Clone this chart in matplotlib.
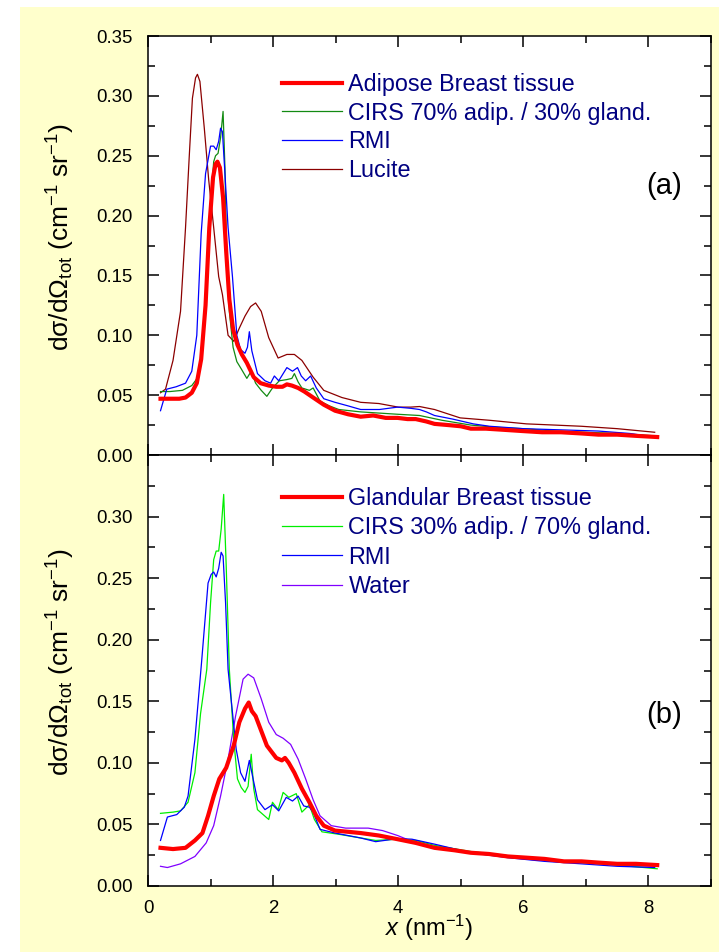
import matplotlib
matplotlib.use("Agg")
import matplotlib.pyplot as plt
from matplotlib.patches import Rectangle
from matplotlib.ticker import MultipleLocator, FormatStrFormatter

plt.rcParams['font.family'] = ['Liberation Sans', 'DejaVu Sans']
plt.rcParams['mathtext.fontset'] = 'custom'
plt.rcParams['mathtext.rm'] = 'Liberation Sans'
plt.rcParams['mathtext.it'] = 'Liberation Sans:italic'
plt.rcParams['mathtext.bf'] = 'Liberation Sans:bold'

# ---------------- panel (a): adipose tissue and phantoms ----------------
adipose_x = [0.20, 0.35, 0.50, 0.60, 0.70, 0.78, 0.85, 0.92, 0.98, 1.04, 1.08, 1.11, 1.15, 1.20,
             1.25, 1.30, 1.36, 1.43, 1.50, 1.58, 1.69, 1.80, 1.93, 2.05, 2.15, 2.22, 2.30, 2.40,
             2.50, 2.64, 2.81, 2.99, 3.20, 3.40, 3.60, 3.80, 3.99, 4.15, 4.28, 4.45, 4.58, 4.80,
             5.00, 5.16, 5.40, 5.70, 5.99, 6.30, 6.60, 6.93, 7.20, 7.50, 7.80, 8.14]
adipose_y = [0.047, 0.047, 0.047, 0.048, 0.052, 0.060, 0.080, 0.125, 0.190, 0.232, 0.243, 0.245,
             0.240, 0.215, 0.170, 0.130, 0.105, 0.092, 0.084, 0.077, 0.065, 0.060, 0.058, 0.057,
             0.057, 0.059, 0.058, 0.056, 0.053, 0.048, 0.042, 0.037, 0.034, 0.032, 0.033, 0.031,
             0.031, 0.030, 0.030, 0.028, 0.026, 0.025, 0.024, 0.022, 0.022, 0.021, 0.020, 0.019,
             0.019, 0.018, 0.017, 0.017, 0.016, 0.015]

cirs70_x = [0.20, 0.35, 0.55, 0.70, 0.80, 0.88, 0.94, 1.00, 1.05, 1.08, 1.12, 1.16, 1.20, 1.23,
            1.26, 1.30, 1.36, 1.42, 1.49, 1.58, 1.65, 1.72, 1.81, 1.90, 1.99, 2.10, 2.22, 2.30,
            2.34, 2.40, 2.46, 2.58, 2.64, 2.75, 2.90, 3.05, 3.40, 3.70, 4.00, 4.34, 4.70, 5.16,
            5.60, 6.00, 6.50, 7.00, 7.50, 8.10]
cirs70_y = [0.053, 0.053, 0.054, 0.058, 0.065, 0.090, 0.150, 0.210, 0.245, 0.250, 0.252, 0.265,
            0.287, 0.240, 0.160, 0.120, 0.090, 0.078, 0.072, 0.064, 0.070, 0.060, 0.054, 0.049,
            0.056, 0.062, 0.063, 0.064, 0.068, 0.061, 0.056, 0.054, 0.056, 0.045, 0.041, 0.038,
            0.036, 0.035, 0.034, 0.033, 0.029, 0.025, 0.023, 0.022, 0.020, 0.019, 0.018, 0.016]

rmi_a_x = [0.20, 0.30, 0.45, 0.60, 0.70, 0.78, 0.85, 0.92, 1.00, 1.05, 1.09, 1.13, 1.16, 1.19,
           1.23, 1.28, 1.35, 1.42, 1.48, 1.55, 1.59, 1.62, 1.66, 1.75, 1.87, 1.96, 2.02, 2.09,
           2.22, 2.31, 2.39, 2.45, 2.52, 2.60, 2.69, 2.81, 2.99, 3.20, 3.40, 3.70, 3.99, 4.20,
           4.34, 4.45, 4.58, 4.87, 5.20, 5.46, 6.00, 6.60, 7.20, 7.70, 8.10]
rmi_a_y = [0.037, 0.055, 0.057, 0.060, 0.070, 0.100, 0.185, 0.235, 0.258, 0.258, 0.255, 0.262,
           0.273, 0.270, 0.235, 0.190, 0.149, 0.100, 0.088, 0.085, 0.090, 0.103, 0.087, 0.068,
           0.062, 0.060, 0.066, 0.062, 0.073, 0.070, 0.073, 0.066, 0.062, 0.066, 0.056, 0.047,
           0.044, 0.041, 0.038, 0.038, 0.040, 0.039, 0.038, 0.036, 0.033, 0.030, 0.026, 0.024,
           0.022, 0.021, 0.020, 0.018, 0.015]

lucite_x = [0.20, 0.28, 0.40, 0.52, 0.60, 0.66, 0.71, 0.76, 0.79, 0.83, 0.90, 0.97, 1.05, 1.13,
            1.19, 1.28, 1.37, 1.46, 1.55, 1.64, 1.72, 1.81, 1.93, 2.08, 2.22, 2.34, 2.46, 2.64,
            2.81, 3.10, 3.40, 3.69, 4.00, 4.20, 4.34, 4.58, 4.99, 5.46, 6.05, 6.50, 6.93, 7.50,
            8.10]
lucite_y = [0.052, 0.055, 0.079, 0.120, 0.190, 0.250, 0.298, 0.315, 0.318, 0.312, 0.273, 0.230,
            0.190, 0.149, 0.134, 0.100, 0.095, 0.106, 0.116, 0.124, 0.127, 0.120, 0.098, 0.081,
            0.084, 0.084, 0.079, 0.065, 0.054, 0.048, 0.044, 0.043, 0.040, 0.040, 0.0405, 0.038,
            0.031, 0.029, 0.026, 0.025, 0.024, 0.022, 0.019]

# ---------------- panel (b): glandular tissue and phantoms ----------------
glandular_x = [0.20, 0.40, 0.60, 0.75, 0.87, 0.96, 1.05, 1.14, 1.25, 1.37, 1.46, 1.55, 1.61, 1.66,
               1.72, 1.78, 1.90, 2.05, 2.14, 2.19, 2.25, 2.34, 2.46, 2.58, 2.69, 2.81, 2.99, 3.20,
               3.40, 3.69, 3.99, 4.28, 4.58, 4.90, 5.16, 5.45, 5.75, 6.05, 6.34, 6.65, 6.93, 7.20,
               7.50, 7.80, 8.14]
glandular_y = [0.031, 0.030, 0.031, 0.037, 0.043, 0.057, 0.073, 0.087, 0.096, 0.114, 0.133, 0.144,
               0.149, 0.142, 0.138, 0.130, 0.114, 0.104, 0.102, 0.104, 0.100, 0.092, 0.079, 0.068,
               0.057, 0.049, 0.045, 0.044, 0.043, 0.041, 0.038, 0.035, 0.031, 0.029, 0.027, 0.026,
               0.024, 0.023, 0.022, 0.020, 0.020, 0.019, 0.018, 0.018, 0.017]

cirs30_x = [0.20, 0.40, 0.52, 0.64, 0.75, 0.84, 0.94, 1.00, 1.05, 1.09, 1.13, 1.17, 1.21, 1.25,
            1.30, 1.37, 1.43, 1.49, 1.55, 1.60, 1.65, 1.69, 1.75, 1.93, 1.99, 2.08, 2.16, 2.25,
            2.37, 2.46, 2.58, 2.66, 2.78, 3.05, 3.40, 3.64, 3.99, 4.28, 4.58, 5.16, 6.05, 6.93,
            7.50, 8.14]
cirs30_y = [0.059, 0.060, 0.061, 0.068, 0.092, 0.140, 0.176, 0.230, 0.265, 0.272, 0.272, 0.290,
            0.318, 0.260, 0.176, 0.119, 0.087, 0.080, 0.076, 0.081, 0.107, 0.079, 0.062, 0.054,
            0.068, 0.062, 0.076, 0.072, 0.075, 0.060, 0.066, 0.054, 0.044, 0.042, 0.039, 0.037,
            0.038, 0.037, 0.033, 0.028, 0.023, 0.019, 0.017, 0.014]

rmi_b_x = [0.20, 0.31, 0.46, 0.58, 0.64, 0.75, 0.855, 0.96, 1.01, 1.05, 1.09, 1.13, 1.17, 1.20,
           1.24, 1.28, 1.34, 1.41, 1.48, 1.55, 1.62, 1.68, 1.75, 1.87, 1.99, 2.09, 2.21, 2.31,
           2.40, 2.49, 2.58, 2.64, 2.75, 2.99, 3.40, 3.64, 3.99, 4.22, 4.58, 5.16, 5.75, 6.34,
           6.93, 7.50, 8.10]
rmi_b_y = [0.037, 0.056, 0.058, 0.064, 0.073, 0.119, 0.181, 0.246, 0.253, 0.255, 0.251, 0.258,
           0.271, 0.268, 0.230, 0.176, 0.146, 0.111, 0.092, 0.085, 0.102, 0.087, 0.070, 0.062,
           0.066, 0.061, 0.072, 0.069, 0.073, 0.065, 0.064, 0.060, 0.046, 0.043, 0.039, 0.036,
           0.0385, 0.038, 0.034, 0.027, 0.023, 0.020, 0.018, 0.016, 0.015]

water_x = [0.20, 0.31, 0.52, 0.75, 0.93, 1.05, 1.16, 1.28, 1.40, 1.52, 1.60, 1.69, 1.81, 1.93,
           2.05, 2.16, 2.28, 2.40, 2.52, 2.64, 2.75, 2.93, 3.16, 3.52, 3.75, 3.99, 4.28, 4.58,
           5.00, 5.50, 6.00, 6.50, 7.00, 7.50, 8.10]
water_y = [0.016, 0.015, 0.018, 0.024, 0.035, 0.049, 0.073, 0.103, 0.138, 0.168, 0.172, 0.169,
           0.152, 0.133, 0.123, 0.120, 0.115, 0.103, 0.087, 0.070, 0.057, 0.049, 0.047, 0.047,
           0.045, 0.041, 0.035, 0.031, 0.028, 0.025, 0.022, 0.020, 0.019, 0.017, 0.016]

labels_a = ['Adipose Breast tissue', 'CIRS 70% adip. / 30% gland.', 'RMI', 'Lucite']
labels_b = ['Glandular Breast tissue', 'CIRS 30% adip. / 70% gland.', 'RMI', 'Water']
y_ticks = [0.00, 0.05, 0.10, 0.15, 0.20, 0.25, 0.30, 0.35]
x_ticks = [0, 2, 4, 6, 8]

W, H = 719, 952
fig = plt.figure(figsize=(W / 100, H / 100), dpi=100, facecolor='white')
fig.patches.append(Rectangle((20 / W, 0), 1 - 20 / W, 1 - 7 / H, transform=fig.transFigure,
                             facecolor='#FFFFCC', edgecolor='none', zorder=-10))

left, right = 148 / W, 711 / W
ax_a = fig.add_axes([left, 1 - 455 / H, right - left, (455 - 36) / H])
ax_b = fig.add_axes([left, 1 - 886 / H, right - left, (886 - 455) / H])

navy = '#000080'
thin = 0.9
thick = 3.0

ax_a.plot(lucite_x, lucite_y, color='#8B0000', lw=thin, label=labels_a[3], zorder=2)
ax_a.plot(cirs70_x, cirs70_y, color='#128A12', lw=thin, label=labels_a[1], zorder=3)
ax_a.plot(rmi_a_x, rmi_a_y, color='#0000FF', lw=thin, label=labels_a[2], zorder=4)
ax_a.plot(adipose_x, adipose_y, color='#FF0000', lw=thick, label=labels_a[0], zorder=5)

ax_b.plot(water_x, water_y, color='#8000FF', lw=thin, label=labels_b[3], zorder=2)
ax_b.plot(cirs30_x, cirs30_y, color='#00EE00', lw=thin, label=labels_b[1], zorder=3)
ax_b.plot(rmi_b_x, rmi_b_y, color='#0000FF', lw=thin, label=labels_b[2], zorder=4)
ax_b.plot(glandular_x, glandular_y, color='#FF0000', lw=thick, label=labels_b[0], zorder=5)

ylabel = r'dσ/dΩ$_{\mathrm{tot}}$ (cm$^{-1}$ sr$^{-1}$)'
for ax, labels, ytop, lspace in ((ax_a, labels_a, 73, 0.24), (ax_b, labels_b, 487, 0.27)):
    ax.set_facecolor('white')
    ax.set_xlim(0, 9)
    ax.set_ylim(0, 0.35)
    ax.set_xticks(x_ticks)
    ax.xaxis.set_minor_locator(MultipleLocator(1))
    ax.set_yticks(y_ticks)
    ax.yaxis.set_minor_locator(MultipleLocator(0.025))
    ax.yaxis.set_major_formatter(FormatStrFormatter('%.2f'))
    ax.tick_params(which='both', direction='in', top=True, right=True, width=1.1,
                   labelsize=13.4, colors='black')
    ax.tick_params(which='major', length=8)
    ax.tick_params(which='minor', length=5)
    ax.tick_params(axis='y', pad=11)
    ax.tick_params(axis='x', pad=10)
    for s in ax.spines.values():
        s.set_linewidth(1.1)
    ax.set_ylabel(ylabel, fontsize=19)
    ax.yaxis.set_label_coords(-0.155, 0.52)
    ax.yaxis.label.set_verticalalignment('center')

    handles, labs = ax.get_legend_handles_labels()
    order = [labs.index(l) for l in labels]
    leg = ax.legend([handles[i] for i in order], [labs[i] for i in order],
                    loc='upper left', bbox_to_anchor=(282 / W, 1 - ytop / H),
                    bbox_transform=fig.transFigure, frameon=False, fontsize=16.8,
                    handlelength=2.55, handletextpad=0.3, labelspacing=lspace,
                    borderpad=0, borderaxespad=0)
    for t in leg.get_texts():
        t.set_color(navy)

ax_a.tick_params(axis='x', labelbottom=False)
ax_b.yaxis.get_major_ticks()[-1].label1.set_visible(False)

ax_a.text(8.25, 0.225, '(a)', fontsize=21, ha='center', va='center')
ax_b.text(8.25, 0.139, '(b)', fontsize=21, ha='center', va='center')

ax_b.set_xlabel(r'$x$ (nm$^{-1}$)', fontsize=17)
ax_b.xaxis.set_label_coords(0.5, -0.097)
ax_b.xaxis.label.set_verticalalignment('center')

fig.savefig('out.png', dpi=100, facecolor=fig.get_facecolor())
